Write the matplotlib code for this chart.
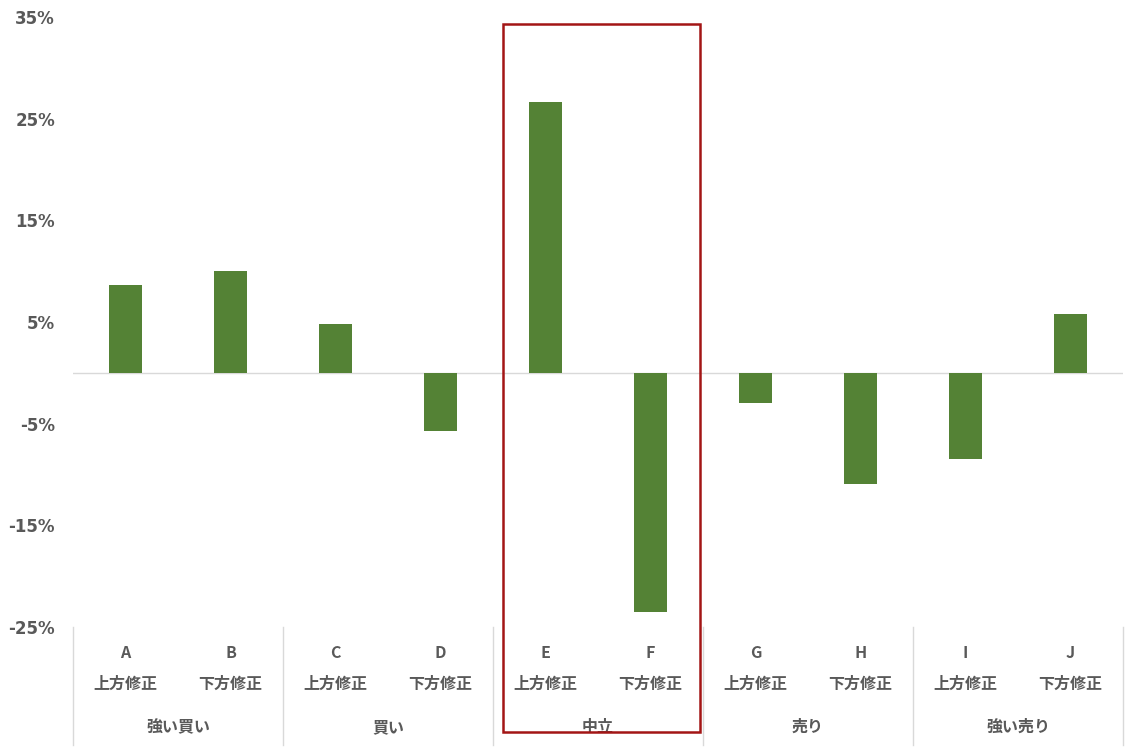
import matplotlib.pyplot as plt
import matplotlib.transforms as mtransforms
from matplotlib.patches import Rectangle
from matplotlib.ticker import FuncFormatter

plt.rcParams['font.family'] = ['Noto Sans CJK JP', 'DejaVu Sans']

# data
letters = ["A", "B", "C", "D", "E", "F", "G", "H", "I", "J"]
kinds = ["上方修正", "下方修正"] * 5
groups = ["強い買い", "買い", "中立", "売り", "強い売り"]
values = [0.086, 0.100, 0.048, -0.057, 0.266, -0.235, -0.030, -0.109, -0.085, 0.058]

green = "#548235"
grey_txt = "#595959"

fig = plt.figure(figsize=(11.38, 7.52), dpi=100)
ax = fig.add_axes([73 / 1138, 1 - 627 / 752, 1050 / 1138, 610 / 752])

x = list(range(len(values)))
ax.bar(x, values, width=0.31, color=green, zorder=3)
ax.axhline(0, color="#d9d9d9", lw=1, zorder=2)

ax.set_xlim(-0.5, 9.5)
ax.set_ylim(-0.25, 0.35)
ax.set_yticks([-0.25, -0.15, -0.05, 0.05, 0.15, 0.25, 0.35])
ax.yaxis.set_major_formatter(FuncFormatter(lambda v, p: f"{round(v * 100)}%"))
ax.tick_params(axis="y", length=0, pad=13, labelsize=12, labelcolor=grey_txt,
               labelfontfamily="DejaVu Sans")
for lab in ax.get_yticklabels():
    lab.set_fontweight("bold")
ax.set_xticks([])
for s in ax.spines.values():
    s.set_visible(False)

# category axis below the plot
trans = mtransforms.blended_transform_factory(ax.transData, ax.transAxes)
sep_bottom = -(745 - 627) / 610
for i in range(6):
    xs = -0.5 + 2 * i
    ax.plot([xs, xs], [0, sep_bottom], transform=trans, color="#d9d9d9",
            lw=1, clip_on=False)

for i, (l, k) in enumerate(zip(letters, kinds)):
    ax.text(i, -(653 - 627) / 610, l, transform=trans, ha="center", va="center",
            fontsize=11.5, fontweight="bold", color=grey_txt)
    ax.text(i, -(684 - 627) / 610, k, transform=trans, ha="center", va="center",
            fontsize=11.5, fontweight="bold", color=grey_txt)
for j, g in enumerate(groups):
    ax.text(2 * j + 0.5, -(727 - 627) / 610, g, transform=trans, ha="center",
            va="center", fontsize=11.5, fontweight="bold", color=grey_txt)

# highlight box around 中立
fig.patches.append(Rectangle((503 / 1138, 1 - 732 / 752), 197 / 1138, 708 / 752,
                             transform=fig.transFigure, fill=False,
                             edgecolor="#A31515", lw=1.8, zorder=10))

fig.savefig("out.png", dpi=100)
